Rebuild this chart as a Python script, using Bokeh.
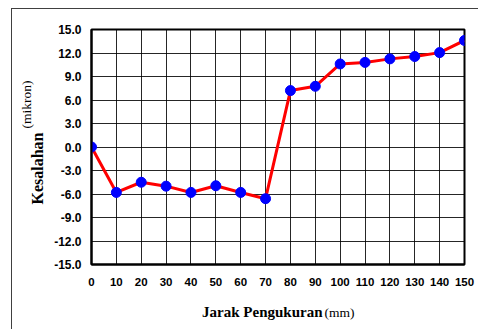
from bokeh.plotting import figure
from bokeh.models import Label, FixedTicker, PrintfTickFormatter, Range1d, InlineStyleSheet
from bokeh.embed import file_html
from bokeh.resources import INLINE
from math import pi

jarak = [0, 10, 20, 30, 40, 50, 60, 70, 80, 90, 100, 110, 120, 130, 140, 150]
kesalahan = [0.0, -5.8, -4.5, -5.0, -5.8, -4.95, -5.8, -6.6, 7.2, 7.75, 10.6, 10.8, 11.25, 11.55, 12.05, 13.6]
x_ticks = [0, 10, 20, 30, 40, 50, 60, 70, 80, 90, 100, 110, 120, 130, 140, 150]
y_ticks = [-15, -12, -9, -6, -3, 0, 3, 6, 9, 12, 15]

W, H = 478, 329
p = figure(width=W, height=H, output_backend="svg", toolbar_location=None,
           x_range=Range1d(0, 150), y_range=Range1d(-15, 15),
           min_border_left=91, min_border_right=14, min_border_top=29, min_border_bottom=65)

p.outline_line_color = "black"
p.outline_line_width = 2
p.background_fill_color = "white"
p.border_fill_color = "white"

# outer chart border (only top and left edges visible in the crop)
p.stylesheets = [InlineStyleSheet(css=(
    ":host::after { content: ''; position: absolute; left: 11px; top: 8px; "
    "right: 0px; bottom: 0px; border-top: 1.5px solid #404040; "
    "border-left: 1.5px solid #404040; pointer-events: none; }"))]

for ax in (p.xaxis[0], p.yaxis[0]):
    ax.axis_line_color = "black"
    ax.axis_line_width = 2
    ax.major_tick_line_color = None
    ax.minor_tick_line_color = None
    ax.major_tick_out = 0
    ax.major_tick_in = 0
    ax.major_label_text_font = "Liberation Sans"
    ax.major_label_text_font_style = "bold"
    ax.major_label_text_color = "black"

p.xaxis[0].ticker = FixedTicker(ticks=x_ticks)
p.xaxis[0].major_label_text_font_size = "11.5px"
p.xaxis[0].major_label_standoff = 13
p.yaxis[0].ticker = FixedTicker(ticks=y_ticks)
p.yaxis[0].formatter = PrintfTickFormatter(format="%.1f")
p.yaxis[0].major_label_text_font_size = "12px"
p.yaxis[0].major_label_standoff = 10

p.xgrid.ticker = FixedTicker(ticks=x_ticks)
p.ygrid.ticker = FixedTicker(ticks=y_ticks)
for g in (p.xgrid[0], p.ygrid[0]):
    g.grid_line_color = "black"
    g.grid_line_width = 1
    g.grid_line_alpha = 0.85

p.line(jarak, kesalahan, line_color="red", line_width=3)
p.scatter(jarak, kesalahan, size=10, fill_color="blue", line_color="blue")

serif = "Liberation Serif"
def lab(x, y, text, bold, align, size, angle=0, side="below"):
    p.add_layout(Label(x=x, y=y, x_units="screen", y_units="screen", text=text,
                       text_font=serif, text_font_style="bold" if bold else "normal",
                       text_font_size=size, text_align=align,
                       text_baseline="middle", text_color="black", angle=angle), side)

lab(231, -7, "Jarak Pengukuran", True, "right", "15px")
lab(233, 7, "(mm)", False, "left", "13.5px")
lab(3, 60, "Kesalahan", True, "left", "16px", pi / 2, "left")
lab(7, 136, "(mikron)", False, "left", "13.5px", pi / 2, "left")

open("out.html", "w").write(file_html(p, INLINE))
